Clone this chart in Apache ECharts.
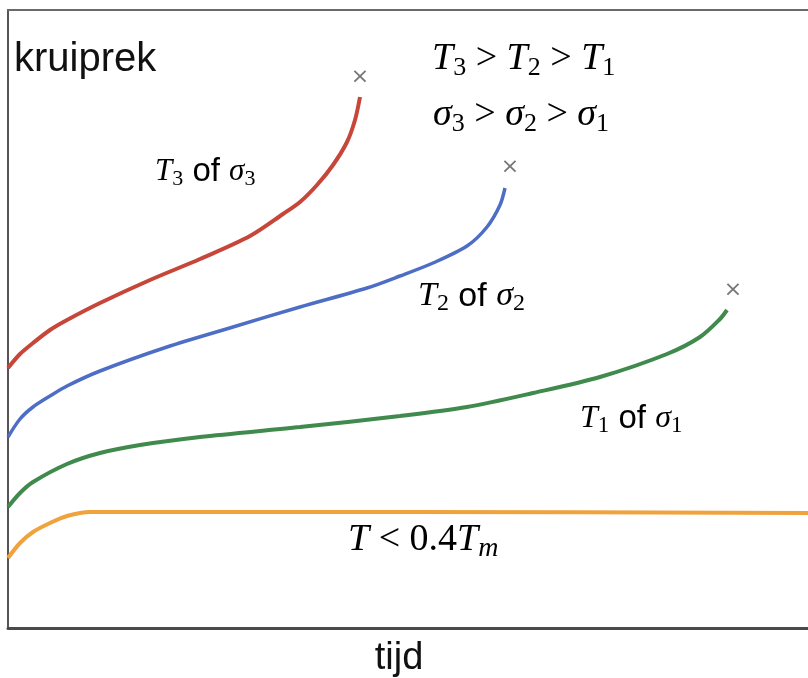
<!DOCTYPE html>
<html>
<head>
<meta charset="utf-8">
<script src="https://cdn.jsdelivr.net/npm/echarts@6/dist/echarts.min.js"></script>
<style>
html,body{margin:0;padding:0;background:#fff;}
#chart{width:808px;height:678px;}
</style>
</head>
<body>
<div id="chart"></div>
<script>
// Curves (x: time units, y: creep strain units)
const redX    = [0,12,25,42,59,92,142,192,242,275,292,309,325,339,347,352];
const redY    = [260,274,285,298,308,325,348,369,392,414,426,443,463,486,508,531];
const blueX   = [0,12,25,42,59,92,159,225,292,359,392,425,459,479,492,497];
const blueY   = [191,209,221,232,242,257,281,301,321,340,352,365,382,401,423,440];
const greenX  = [0,12,25,59,92,132,192,292,392,459,525,592,659,692,712,719];
const greenY  = [121,135,146,164,175,183,191,201,212,221,235,251,274,291,309,318];
const orangeX = [0,12,25,42,59,82,92,400,800];
const orangeY = [70,85,96,105,112,116,116,116,115];
// rupture points (×)
const breakX = [352,502,725];
const breakY = [551,461,338];

const xName = 'tijd';
const yName = 'kruiprek';

function pairs(xs, ys){ return xs.map((x,i)=>[x, ys[i]]); }

const chart = echarts.init(document.getElementById('chart'), null, {renderer:'canvas'});

const serif = '"Liberation Serif", "DejaVu Serif", serif';
const sans = '"Liberation Sans", Arial, sans-serif';
function mathRich(size, subSize, pad, ofSize){
  return {
    i: {fontFamily: serif, fontStyle: 'italic', fontSize: size, color: '#4d4d4d', lineHeight: size+2},
    s: {fontFamily: serif, fontSize: subSize, color: '#4d4d4d', lineHeight: subSize, padding: [pad,0,0,0]},
    si: {fontFamily: serif, fontStyle: 'italic', fontSize: subSize, color: '#4d4d4d', lineHeight: subSize, padding: [pad,0,0,0]},
    r: {fontFamily: serif, fontSize: size, color: '#4d4d4d', lineHeight: size+2},
    o: {fontFamily: sans, fontSize: ofSize || size, color: '#1a1a1a', lineHeight: size+2}
  };
}
function mtext(x, y, text, size, subSize, pad, ofSize){
  return {type:'text', left: x, top: y, style:{text: text, rich: mathRich(size, subSize, pad, ofSize), verticalAlign:'middle'}};
}

const lineCommon = {type:'line', smooth:0.3, showSymbol:false, symbol:'none', z:3};

chart.setOption({
  animation:false,
  grid:{left:8, right:0, top:10, bottom:50, containLabel:false, outerBoundsMode:'none'},
  xAxis:[
    {type:'value', min:0, max:800, position:'bottom',
     axisLine:{show:true, onZero:false, lineStyle:{color:'#4a4a4a', width:3}},
     axisTick:{show:false}, axisLabel:{show:false}, splitLine:{show:false},
     name: xName, nameLocation:'middle', nameGap:12,
     nameTextStyle:{fontFamily:sans, fontSize:38, color:'#111', padding:[0,18,0,0]}},
    {type:'value', min:0, max:800, position:'top',
     axisLine:{show:true, onZero:false, lineStyle:{color:'#6a6a6a', width:2}},
     axisTick:{show:false}, axisLabel:{show:false}, splitLine:{show:false}}
  ],
  yAxis:{type:'value', min:0, max:618,
     axisLine:{show:true, onZero:false, lineStyle:{color:'#555', width:2}},
     axisTick:{show:false}, axisLabel:{show:false}, splitLine:{show:false}},
  series:[
    Object.assign({name:'T3', data:pairs(redX, redY), lineStyle:{color:'#c6463a', width:4}}, lineCommon),
    Object.assign({name:'T2', data:pairs(blueX, blueY), lineStyle:{color:'#4d6ec4', width:3.5}}, lineCommon),
    Object.assign({name:'T1', data:pairs(greenX, greenY), lineStyle:{color:'#3f8a4c', width:4}}, lineCommon),
    Object.assign({name:'T<0.4Tm', data:pairs(orangeX, orangeY), lineStyle:{color:'#f0a23c', width:4}}, lineCommon),
    {type:'scatter', name:'breuk', data:pairs(breakX, breakY), symbolSize:0, z:4,
     label:{show:true, position:'inside', formatter:'×', fontFamily:'"DejaVu Sans", sans-serif', fontSize:22, color:'#555'}}
  ],
  graphic:[
    {type:'text', left:14, top:40, style:{text: yName, fontFamily:sans, fontSize:40, fill:'#111'}},
    mtext(432, 37, '{i|T}{s|3}{r| > }{i|T}{s|2}{r| > }{i|T}{s|1}', 38, 26, 18),
    mtext(433, 93, '{i|σ}{s|3}{r| > }{i|σ}{s|2}{r| > }{i|σ}{s|1}', 38, 26, 18),
    mtext(155, 154, '{i|T}{s|3}{o| of }{i|σ}{s|3}', 31, 22, 14, 33),
    mtext(418, 277, '{i|T}{s|2}{o| of }{i|σ}{s|2}', 34, 24, 15, 34),
    mtext(580, 400, '{i|T}{s|1}{o| of }{i|σ}{s|1}', 32, 23, 14, 33),
    mtext(348, 517, '{i|T}{r| < 0.4}{i|T}{si|m}', 38, 28, 18)
  ]
});
</script>
</body>
</html>
